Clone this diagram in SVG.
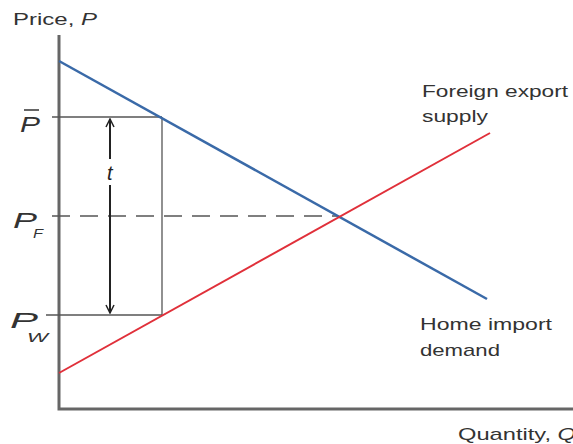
<svg xmlns="http://www.w3.org/2000/svg" width="573" height="444" viewBox="0 0 573 444">
<defs>
<style>
text{font-family:"Liberation Sans",Arial,sans-serif;fill:#333}
.lab{font-size:17px}
.sym{font-size:22px;font-style:italic}
.sub{font-size:13px;font-style:italic}
.ax{stroke:#666;stroke-width:3;fill:none}
.thin{stroke:#555;stroke-width:1.3;fill:none}
</style>
<marker id="ah" viewBox="0 0 10 10" refX="9" refY="5" markerWidth="10" markerHeight="10" orient="auto-start-reverse" markerUnits="userSpaceOnUse">
<path d="M1,1 L9,5 L1,9" fill="none" stroke="#222" stroke-width="1.5"/>
</marker>
</defs>
<rect width="573" height="444" fill="#fff"/>
<g id="axes">
<path class="ax" d="M59,35 V409 H573"/>
<text class="lab" x="13" y="25" textLength="84" lengthAdjust="spacingAndGlyphs">Price, <tspan font-style="italic">P</tspan></text>
<text class="lab" x="458" y="440" textLength="118" lengthAdjust="spacingAndGlyphs">Quantity, <tspan font-style="italic">Q</tspan></text>
</g>
<g id="connectors">
<line class="thin" x1="52" y1="117" x2="162" y2="117"/>
<line class="thin" x1="162" y1="117" x2="162" y2="315"/>
<line class="thin" x1="46" y1="315" x2="162" y2="315"/>
<line class="thin" x1="52" y1="216" x2="338" y2="216" stroke-dasharray="18,10"/>
<line x1="110" y1="119" x2="110" y2="313" stroke="#222" stroke-width="2" marker-start="url(#ah)" marker-end="url(#ah)"/>
</g>
<g id="demand">
<line x1="59" y1="61" x2="487" y2="299" stroke="#3a6aa8" stroke-width="2.5"/>
<text class="lab" x="420" y="330" textLength="132" lengthAdjust="spacingAndGlyphs">Home import</text>
<text class="lab" x="420" y="356" textLength="80" lengthAdjust="spacingAndGlyphs">demand</text>
</g>
<g id="supply">
<line x1="59" y1="373" x2="490" y2="133" stroke="#e0303a" stroke-width="2"/>
<text class="lab" x="422" y="97" textLength="146" lengthAdjust="spacingAndGlyphs">Foreign export</text>
<text class="lab" x="422" y="122" textLength="66" lengthAdjust="spacingAndGlyphs">supply</text>
</g>
<g id="labels">
<text class="sym" x="20" y="132" textLength="20" lengthAdjust="spacingAndGlyphs">P</text>
<line x1="24" y1="110" x2="39" y2="110" stroke="#333" stroke-width="1.5"/>
<text class="sym" x="13" y="228" textLength="24" lengthAdjust="spacingAndGlyphs">P</text>
<text class="sub" x="33" y="238" textLength="10" lengthAdjust="spacingAndGlyphs">F</text>
<text class="sym" x="10" y="328" textLength="28" lengthAdjust="spacingAndGlyphs">P</text>
<text class="sub" x="27" y="342" textLength="21" lengthAdjust="spacingAndGlyphs">W</text>
<rect x="104" y="159" width="13" height="26" fill="#fff"/>
<text class="sym" x="107" y="180" style="font-size:20px;fill:#222">t</text>
</g>
</svg>
